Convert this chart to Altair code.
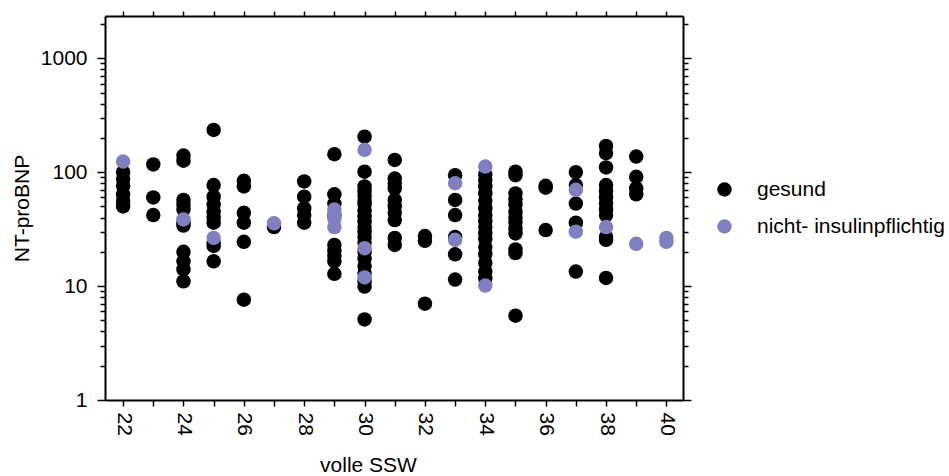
import altair as alt
import pandas as pd

# ---- data -------------------------------------------------------------
gesund_ssw = [
    22, 22, 22, 22, 22, 22,
    23, 23, 23,
    24, 24, 24, 24, 24, 24, 24, 24, 24, 24, 24,
    25, 25, 25, 25, 25, 25, 25, 25, 25, 25,
    26, 26, 26, 26, 26, 26,
    27,
    28, 28, 28, 28, 28,
    29, 29, 29, 29, 29, 29, 29, 29, 29,
    30, 30, 30, 30, 30, 30, 30, 30, 30, 30, 30, 30, 30, 30, 30, 30, 30, 30, 30, 30, 30,
    31, 31, 31, 31, 31, 31, 31, 31, 31, 31,
    32, 32, 32,
    33, 33, 33, 33, 33, 33,
    34, 34, 34, 34, 34, 34, 34, 34, 34, 34, 34, 34, 34, 34, 34, 34,
    35, 35, 35, 35, 35, 35, 35, 35, 35, 35, 35, 35, 35,
    36, 36, 36,
    37, 37, 37, 37, 37,
    38, 38, 38, 38, 38, 38, 38, 38, 38, 38, 38, 38,
    39, 39, 39, 39,
]
gesund_ntprobnp = [
    100, 87, 76, 64, 56, 50,
    117, 60, 42,
    140, 126, 57, 52, 47, 36, 34, 20, 16.5, 14, 11,
    235, 77, 61, 52, 45, 40, 36, 24, 22.5, 16.5,
    84, 75, 44, 36, 24.5, 7.6,
    33,
    83, 61, 48, 42, 36,
    144, 64, 53, 42, 23, 20.5, 18.5, 16.5, 12.8,
    205, 101, 75, 68, 62, 56, 52, 46, 41, 37, 33, 30, 27, 24, 20, 17.5, 15, 13, 11, 9.9, 5.1,
    128, 88, 80, 72, 57, 50, 44, 38, 26.5, 23,
    27.5, 25, 7,
    94, 57, 42, 27, 19, 11.4,
    95, 85, 75, 65, 56, 48, 42, 37, 33, 29, 26, 22, 19, 16, 13.4, 11.7,
    101, 94, 65, 58, 52, 45, 40, 36.5, 32, 29, 21, 19.5, 5.5,
    76, 73, 31,
    100, 77, 53, 36, 13.4,
    170, 147, 110, 77, 68, 60, 53, 47, 42, 27, 25.5, 11.8,
    137, 91, 72, 64,
]

nip_ssw = [22, 24, 25, 27, 29, 29, 29, 29, 30, 30, 30, 33, 33, 34, 34,
           37, 37, 38, 39, 40, 40]
nip_ntprobnp = [124, 38.5, 26.5, 35.6, 47, 43, 39, 33, 157, 21.5, 11.9, 80, 25.5,
                112, 10.1, 70, 30, 33, 23.5, 26.5, 24.5]

groups = ["gesund", "nicht- insulinpflichtig"]
group_colors = ["#000000", "#8080c0"]

x_tick_values = [22, 23, 24, 25, 26, 27, 28, 29, 30, 31, 32, 33, 34, 35, 36, 37, 38, 39, 40]
y_tick_values = [1, 2, 3, 4, 5, 6, 7, 8, 9,
                 10, 20, 30, 40, 50, 60, 70, 80, 90,
                 100, 200, 300, 400, 500, 600, 700, 800, 900,
                 1000, 2000]

df = pd.DataFrame({
    "SSW": gesund_ssw + nip_ssw,
    "NTproBNP": gesund_ntprobnp + nip_ntprobnp,
    "Gruppe": [groups[0]] * len(gesund_ssw) + [groups[1]] * len(nip_ssw),
})

FONT = "Liberation Sans"
major = "abs(log(datum.value)/LN10 - round(log(datum.value)/LN10)) < 0.001"
y_tick_size = {"condition": {"test": major, "value": 8}, "value": 5}

xscale = alt.Scale(domain=[21.4, 40.55], nice=False, zero=False)
yscale = alt.Scale(type="log", domain=[1, 2350], nice=False)

points = alt.Chart(df).mark_circle(size=210, opacity=1).encode(
    x=alt.X("SSW:Q", scale=xscale,
            axis=alt.Axis(orient="bottom", values=x_tick_values,
                          labelExpr="datum.value % 2 == 0 ? format(datum.value, 'd') : ''",
                          labelAngle=90, tickSize=6, labelPadding=6,
                          title="volle SSW", titleX=263, titleY=65,
                          titleBaseline="middle", titleAnchor="start", titleAlign="center")),
    y=alt.Y("NTproBNP:Q", scale=yscale,
            axis=alt.Axis(orient="left", values=y_tick_values,
                          labelExpr=f"({major}) ? format(datum.value, 'd') : ''",
                          tickSize=y_tick_size, labelPadding=10,
                          title="NT-proBNP", titleX=-83, titleY=192,
                          titleBaseline="middle")),
    color=alt.Color("Gruppe:N",
                    scale=alt.Scale(domain=groups, range=group_colors),
                    legend=alt.Legend(orient="none", legendX=609, legendY=163,
                                      title="", padding=0,
                                      symbolSize=210, symbolType="circle",
                                      symbolStrokeWidth=0,
                                      labelFontSize=21, labelFont=FONT,
                                      labelLimit=0,
                                      labelOffset=22, rowPadding=15)),
)

mirror = alt.Chart(df).mark_circle(size=200, opacity=0).encode(
    x=alt.X("SSW:Q", scale=xscale,
            axis=alt.Axis(orient="top", values=x_tick_values, labels=False,
                          tickSize=5, title="")),
    y=alt.Y("NTproBNP:Q", scale=yscale,
            axis=alt.Axis(orient="right", values=y_tick_values, labels=False,
                          tickSize=y_tick_size, title="")),
)

chart = alt.layer(mirror, points).resolve_axis(
    x="independent", y="independent"
).properties(
    width=578, height=384, autosize="none",
    padding={"left": 105, "top": 16, "right": 266, "bottom": 76},
).configure_view(stroke=None).configure_axis(
    grid=False, domainColor="black", domainWidth=2,
    tickColor="black", tickWidth=1.5,
    labelFont=FONT, labelFontSize=21, labelColor="black",
    titleFont=FONT, titleFontSize=21, titleFontWeight="normal", titleColor="black",
).configure_legend(labelColor="black")

chart.save("out.html", embed_options={"renderer": "svg", "actions": False})
